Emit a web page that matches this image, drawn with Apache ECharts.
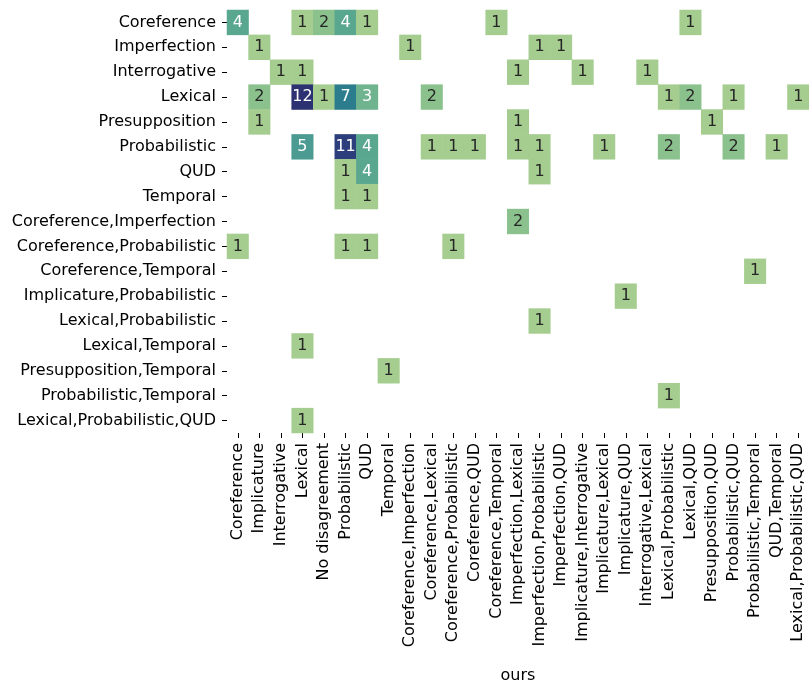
<!DOCTYPE html>
<html>
<head>
<meta charset="utf-8">
<script src="https://cdn.jsdelivr.net/npm/echarts@6/dist/echarts.min.js"></script>
<style>
  html, body { margin: 0; padding: 0; background: #fff; }
  #chart { width: 809px; height: 689px; }
</style>
</head>
<body>
<div id="chart"></div>
<script>
const xLabels = ['Coreference', 'Implicature', 'Interrogative', 'Lexical', 'No disagreement', 'Probabilistic', 'QUD', 'Temporal',
  'Coreference,Imperfection', 'Coreference,Lexical', 'Coreference,Probabilistic', 'Coreference,QUD', 'Coreference,Temporal',
  'Imperfection,Lexical', 'Imperfection,Probabilistic', 'Imperfection,QUD', 'Implicature,Interrogative', 'Implicature,Lexical',
  'Implicature,QUD', 'Interrogative,Lexical', 'Lexical,Probabilistic', 'Lexical,QUD', 'Presupposition,QUD', 'Probabilistic,QUD',
  'Probabilistic,Temporal', 'QUD,Temporal', 'Lexical,Probabilistic,QUD'];
const yLabels = ['Coreference', 'Imperfection', 'Interrogative', 'Lexical', 'Presupposition', 'Probabilistic', 'QUD', 'Temporal',
  'Coreference,Imperfection', 'Coreference,Probabilistic', 'Coreference,Temporal', 'Implicature,Probabilistic',
  'Lexical,Probabilistic', 'Lexical,Temporal', 'Presupposition,Temporal', 'Probabilistic,Temporal', 'Lexical,Probabilistic,QUD'];

// [column index, row index, count]
const cells = [
  [0, 0, 4], [3, 0, 1], [4, 0, 2], [5, 0, 4], [6, 0, 1], [12, 0, 1], [21, 0, 1],
  [1, 1, 1], [8, 1, 1], [14, 1, 1], [15, 1, 1],
  [2, 2, 1], [3, 2, 1], [13, 2, 1], [16, 2, 1], [19, 2, 1],
  [1, 3, 2], [3, 3, 12], [4, 3, 1], [5, 3, 7], [6, 3, 3], [9, 3, 2], [20, 3, 1], [21, 3, 2], [23, 3, 1], [26, 3, 1],
  [1, 4, 1], [13, 4, 1], [22, 4, 1],
  [3, 5, 5], [5, 5, 11], [6, 5, 4], [9, 5, 1], [10, 5, 1], [11, 5, 1], [13, 5, 1], [14, 5, 1], [17, 5, 1], [20, 5, 2], [23, 5, 2], [25, 5, 1],
  [5, 6, 1], [6, 6, 4], [14, 6, 1],
  [5, 7, 1], [6, 7, 1],
  [13, 8, 2],
  [0, 9, 1], [5, 9, 1], [6, 9, 1], [10, 9, 1],
  [24, 10, 1],
  [18, 11, 1],
  [14, 12, 1],
  [3, 13, 1],
  [7, 14, 1],
  [20, 15, 1],
  [3, 16, 1]
];

const crest = ['#a5cd90', '#8bc18c', '#6fb48e', '#5aa78f', '#4b9b92', '#3a8c91',
  '#2b7d8e', '#2a6e8b', '#2a5f88', '#2b5083', '#2c3f7c', '#2c3172'];

const font = 'DejaVu Sans';
const fs = 16;
const chart = echarts.init(document.getElementById('chart'));

chart.setOption({
  animation: false,
  textStyle: { fontFamily: font },
  grid: { left: 227, top: 10, right: 0, bottom: 245.5, containLabel: false },
  xAxis: {
    type: 'category',
    data: xLabels,
    position: 'bottom',
    splitArea: { show: false },
    axisLine: { show: false },
    axisTick: { show: true, alignWithLabel: true, length: 5, lineStyle: { color: '#000', width: 1 } },
    axisLabel: { rotate: 90, interval: 0, color: '#000', fontSize: fs, fontFamily: font, margin: 10 },
    name: 'ours',
    nameLocation: 'middle',
    nameGap: 235,
    nameTextStyle: { color: '#000', fontSize: fs, fontFamily: font }
  },
  yAxis: {
    type: 'category',
    data: yLabels,
    inverse: true,
    axisLine: { show: false },
    axisTick: { show: true, alignWithLabel: true, length: 5, lineStyle: { color: '#000', width: 1 } },
    axisLabel: { interval: 0, color: '#000', fontSize: fs, fontFamily: font, margin: 11 }
  },
  visualMap: {
    show: false,
    type: 'continuous',
    min: 1,
    max: 12,
    dimension: 2,
    inRange: { color: crest }
  },
  series: [{
    type: 'heatmap',
    data: cells.map(c => ({
      value: c,
      label: { color: c[2] >= 3 ? '#ffffff' : '#262626' }
    })),
    label: { show: true, fontSize: fs, fontFamily: font, formatter: p => p.value[2] },
    itemStyle: { borderWidth: 0 }
  }]
});
</script>
</body>
</html>
